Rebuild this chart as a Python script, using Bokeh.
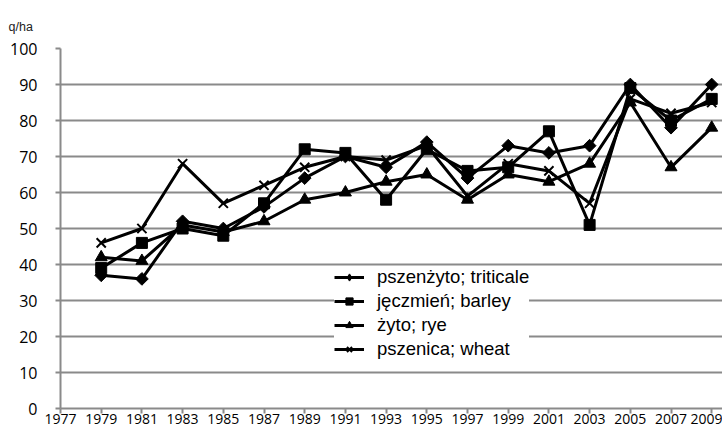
import numpy as np
from bokeh.plotting import figure
from bokeh.models import Range1d, FixedTicker, Legend, LegendItem, ColumnDataSource
from bokeh.embed import file_html
from bokeh.resources import INLINE

years = [1979, 1981, 1983, 1985, 1987, 1989, 1991, 1993, 1995, 1997, 1999, 2001, 2003, 2005, 2007, 2009]
x_ticks = list(range(1977, 2010, 2))
y_ticks = list(range(0, 101, 10))

triticale = [37, 36, 52, 50, 56, 64, 70, 67, 74, 64, 73, 71, 73, 90, 78, 90]
barley = [39, 46, 50, 48, 57, 72, 71, 58, 72, 66, 67, 77, 51, 89, 80, 86]
rye = [42, 41, 51, 49, 52, 58, 60, 63, 65, 58, 65, 63, 68, 85, 67, 78]
wheat = [46, 50, 68, 57, 62, 67, 70, 69, 73, 59, 68, 66, 57, 86, 82, 85]

labels = ["pszenżyto; triticale", "jęczmień; barley", "żyto; rye", "pszenica; wheat"]
unit_label = "q/ha"

GRID = "#8a8a8a"

p = figure(width=722, height=435, output_backend="svg", toolbar_location=None,
           x_range=Range1d(1977, 2009.53), y_range=Range1d(0, 100),
           min_border_left=60, min_border_right=0, min_border_top=48, min_border_bottom=27)
p.outline_line_color = None
p.background_fill_color = "white"
p.border_fill_color = "white"

p.title.text = unit_label
p.title.align = "left"
p.title.offset = -52
p.title.standoff = 29
p.title.text_font = "Liberation Sans"
p.title.text_font_size = "12.5px"
p.title.text_font_style = "normal"
p.title.text_color = "#222222"

p.xgrid.grid_line_color = None
p.ygrid.grid_line_color = GRID
p.ygrid.grid_line_width = 2
p.ygrid.ticker = FixedTicker(ticks=y_ticks)

p.xaxis.ticker = FixedTicker(ticks=x_ticks)
p.yaxis.ticker = FixedTicker(ticks=y_ticks)
for ax in (p.xaxis[0], p.yaxis[0]):
    ax.axis_line_color = GRID
    ax.axis_line_width = 2
    ax.major_tick_line_color = GRID
    ax.major_tick_line_width = 2
    ax.major_tick_in = 0
    ax.major_tick_out = 5
    ax.minor_tick_line_color = None
    ax.major_label_text_font = "Open Sans"
    ax.major_label_text_color = "black"
p.xaxis.major_label_text_font_size = "14px"
p.xaxis.major_label_standoff = 0
p.yaxis.major_label_text_font_size = "16px"
p.yaxis.major_label_standoff = 18

items = []

# triticale: diamond (legend) hidden under rotated squares (chart)
src = ColumnDataSource(dict(x=years, y=triticale))
r1 = p.line("x", "y", source=src, line_color="black", line_width=3)
r_leg = p.scatter("x", "y", source=src, marker="diamond", size=10,
                  fill_color="black", line_color="black")
p.scatter("x", "y", source=src, marker="square", angle=np.pi / 4, size=9,
          fill_color="black", line_color="black")
items.append(LegendItem(label=labels[0], renderers=[r1, r_leg]))

others = [
    (barley, dict(marker="square", size=11)),
    (rye, dict(marker="triangle", size=12)),
    (wheat, dict(marker="x", size=13, line_width=2)),
]
for (vals, mk), lab in zip(others, labels[1:]):
    src = ColumnDataSource(dict(x=years, y=vals))
    r1 = p.line("x", "y", source=src, line_color="black", line_width=3)
    r2 = p.scatter("x", "y", source=src, fill_color="black", line_color="black", **mk)
    items.append(LegendItem(label=lab, renderers=[r1, r2]))

legend = Legend(items=items, location=(274, 48), margin=0, padding=14,
                spacing=2, label_height=21, glyph_height=18, glyph_width=30,
                label_standoff=13, label_text_font="Liberation Sans",
                label_text_font_size="18.5px", label_text_color="black",
                background_fill_color="white", background_fill_alpha=1,
                border_line_color=None)
p.add_layout(legend, "center")

open("out.html", "w").write(file_html(p, INLINE))
